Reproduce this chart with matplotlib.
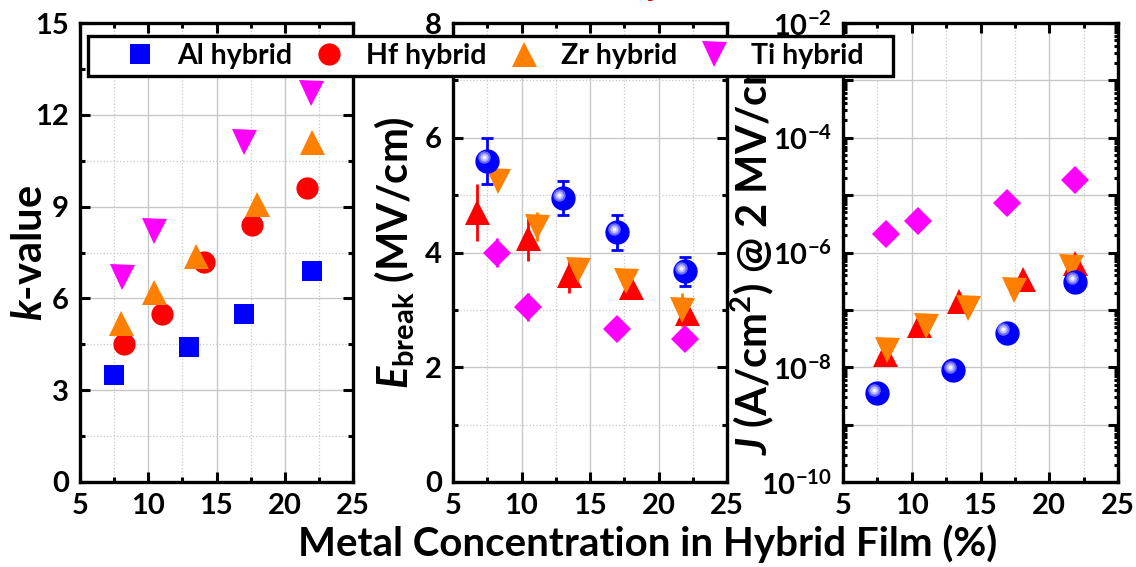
import math
import matplotlib
matplotlib.use("Agg")
import matplotlib.pyplot as plt
import matplotlib.ticker as mticker
from matplotlib.lines import Line2D
from matplotlib.patches import Rectangle
from matplotlib.transforms import offset_copy

plt.rcParams['font.family'] = ['Lato', 'DejaVu Sans']
plt.rcParams['font.weight'] = 'bold'
plt.rcParams['axes.labelweight'] = 'bold'
plt.rcParams['mathtext.fontset'] = 'custom'
plt.rcParams['mathtext.rm'] = 'Lato:bold'
plt.rcParams['mathtext.bf'] = 'Lato:bold'
plt.rcParams['mathtext.it'] = 'Lato:italic:bold'

# k-value vs metal concentration
al_k_x = [7.5, 13.0, 17.0, 22.0]
al_k = [3.5, 4.4, 5.5, 6.9]
hf_k_x = [8.2, 11.0, 14.1, 17.6, 21.6]
hf_k = [4.5, 5.5, 7.2, 8.4, 9.6]
zr_k_x = [8.0, 10.4, 13.5, 18.0, 22.0]
zr_k = [5.2, 6.2, 7.4, 9.1, 11.1]
ti_k_x = [8.1, 10.4, 17.0, 21.9]
ti_k = [6.7, 8.2, 11.1, 12.7]

# breakdown field (MV/cm) with error bars
al_e_x = [7.5, 13.0, 17.0, 21.9]
al_e = [5.6, 4.95, 4.35, 3.67]
al_e_err = [0.4, 0.3, 0.3, 0.25]
hf_e_x = [6.75, 10.5, 13.5, 18.0, 22.1]
hf_e = [4.7, 4.25, 3.6, 3.4, 2.95]
hf_e_err = [0.5, 0.4, 0.3, 0.2, 0.2]
zr_e_x = [8.3, 11.1, 14.1, 17.6, 21.7]
zr_e = [5.25, 4.45, 3.7, 3.5, 3.0]
zr_e_err = [0.1, 0.25, 0.15, 0.1, 0.3]
ti_e_x = [8.2, 10.5, 17.0, 21.9]
ti_e = [4.0, 3.05, 2.67, 2.5]
ti_e_err = [0.25, 0.25, 0.2, 0.2]

# leakage current density at 2 MV/cm (A/cm2)
al_j_x = [7.5, 13.0, 16.9, 21.9]
al_j = [3.5e-9, 8.9e-9, 4.0e-8, 3.1e-7]
hf_j_x = [8.05, 10.5, 13.4, 18.1, 21.9]
hf_j = [1.7e-8, 5.5e-8, 1.4e-7, 3.4e-7, 6.6e-7]
zr_j_x = [8.2, 11.0, 14.1, 17.4, 21.6]
zr_j = [2.0e-8, 5.2e-8, 1.1e-7, 2.2e-7, 5.7e-7]
ti_j_x = [8.1, 10.45, 16.9, 21.9]
ti_j = [2.1e-6, 3.5e-6, 7.2e-6, 1.8e-5]

labels = ["Al hybrid", "Hf hybrid", "Zr hybrid", "Ti hybrid"]
colors = {
    "Al": "#0000ff",
    "Hf": "#ff0000",
    "Zr": "#ff7f00",
    "Ti": "#ff00ff",
}

fig = plt.figure(figsize=(11.36, 5.67), dpi=100)
W, H = 1136, 567
ax1 = fig.add_axes([80 / W, 85 / H, 273 / W, 459 / H])
ax2 = fig.add_axes([453 / W, 85 / H, 274 / W, 459 / H])
ax3 = fig.add_axes([843 / W, 85 / H, 275 / W, 459 / H])


def style_axis(ax):
    ax.set_xlim(5, 25)
    ax.xaxis.set_major_locator(mticker.MultipleLocator(5))
    ax.xaxis.set_minor_locator(mticker.MultipleLocator(2.5))
    ax.tick_params(which='both', direction='in', top=True, right=True,
                   width=2.2, labelsize=21, pad=8)
    ax.tick_params(which='major', length=7)
    ax.tick_params(which='minor', length=3.5)
    for sp in ax.spines.values():
        sp.set_linewidth(2.4)
    ax.grid(True, which='major', color='#c8c8c8', linewidth=1.0)
    ax.grid(True, which='minor', color='#c8c8c8', linewidth=0.9, linestyle=':')
    ax.set_axisbelow(True)


def sphere(ax, x, y, yerr=None):
    # blue ball with a light spot on the upper left
    if yerr is not None:
        ax.errorbar(x, y, yerr=yerr, fmt='none', ecolor=colors["Al"],
                    elinewidth=2, capsize=4, capthick=2, zorder=3)
    ax.plot(x, y, 'o', color=colors["Al"], markersize=16.5, zorder=4)
    spot = offset_copy(ax.transData, fig=fig, x=-2.5, y=2.5, units='points')
    ax.plot(x, y, 'o', color='#6a6aff', markersize=9, transform=spot,
            markeredgewidth=0, zorder=4)
    ax.plot(x, y, 'o', color='#b4b4ff', markersize=6, transform=spot,
            markeredgewidth=0, zorder=4)
    ax.plot(x, y, 'o', color='#f4f4ff', markersize=3, transform=spot,
            markeredgewidth=0, zorder=4)


def log_label(v, pos):
    p = round(math.log10(v))
    return r'$\mathbf{10^{%d}}$' % p if p % 2 == 0 else ''


# k-value
style_axis(ax1)
ax1.set_ylim(0, 15)
ax1.yaxis.set_major_locator(mticker.MultipleLocator(3))
ax1.yaxis.set_minor_locator(mticker.MultipleLocator(1.5))
ax1.plot(al_k_x, al_k, 's', color=colors["Al"], markersize=14.5, markeredgewidth=0)
ax1.plot(hf_k_x, hf_k, 'o', color=colors["Hf"], markersize=16, markeredgewidth=0)
ax1.plot(zr_k_x, zr_k, '^', color=colors["Zr"], markersize=18, markeredgewidth=0)
ax1.plot(ti_k_x, ti_k, 'v', color=colors["Ti"], markersize=18, markeredgewidth=0)
ax1.set_ylabel(r'$k$-value', fontsize=30)
ax1.yaxis.set_label_coords(-0.115, 0.5)

# breakdown field
style_axis(ax2)
ax2.set_ylim(0, 8)
ax2.yaxis.set_major_locator(mticker.MultipleLocator(2))
ax2.yaxis.set_minor_locator(mticker.MultipleLocator(1))
ax2.errorbar(hf_e_x, hf_e, yerr=hf_e_err, fmt='^', color=colors["Hf"], markersize=18,
             markeredgewidth=0, elinewidth=2, capsize=4, capthick=2, zorder=3)
ax2.errorbar(zr_e_x, zr_e, yerr=zr_e_err, fmt='v', color=colors["Zr"], markersize=18,
             markeredgewidth=0, elinewidth=2, capsize=4, capthick=2, zorder=3)
ax2.errorbar(ti_e_x, ti_e, yerr=ti_e_err, fmt='D', color=colors["Ti"], markersize=14,
             markeredgewidth=0, elinewidth=2, capsize=4, capthick=2, zorder=3)
sphere(ax2, al_e_x, al_e, al_e_err)
ax2.set_ylabel(r'$E_{\mathrm{break}}$ (MV/cm)', fontsize=30)
ax2.yaxis.set_label_coords(-0.13, 0.5)

# leakage current
style_axis(ax3)
ax3.set_yscale('log')
ax3.set_ylim(1e-10, 1e-2)
ax3.yaxis.set_major_locator(mticker.LogLocator(base=10, numticks=20))
ax3.yaxis.set_minor_locator(mticker.LogLocator(base=10, subs=range(2, 10), numticks=20))
ax3.yaxis.set_minor_formatter(mticker.NullFormatter())
ax3.yaxis.set_major_formatter(mticker.FuncFormatter(log_label))
ax3.grid(False, which='minor', axis='y')
ax3.tick_params(axis='y', which='minor', length=3)
sphere(ax3, al_j_x, al_j)
ax3.plot(hf_j_x, hf_j, '^', color=colors["Hf"], markersize=18, markeredgewidth=0)
ax3.plot(zr_j_x, zr_j, 'v', color=colors["Zr"], markersize=18, markeredgewidth=0)
ax3.plot(ti_j_x, ti_j, 'D', color=colors["Ti"], markersize=14, markeredgewidth=0)
ax3.set_ylabel(r'$J$ (A/cm$^{2}$) @ 2 MV/cm', fontsize=30)
ax3.yaxis.set_label_coords(-0.245, 0.5)

fig.text(648 / W, 4 / H, 'Metal Concentration in Hybrid Film (%)', ha='center', va='bottom',
         fontsize=29)

# red title cut off at the top edge
fig.text(655 / W, 1 + 5 / H, 'y', color='#e00000', style='italic', fontsize=28,
         ha='center', va='baseline')

# shared legend across the three panels
fig.add_artist(Rectangle((88 / W, 1 - 76 / H), 805 / W, 40 / H, transform=fig.transFigure,
                         facecolor='white', edgecolor='black', linewidth=2.4, zorder=4))
handles = [
    Line2D([], [], marker='s', color=colors["Al"], linestyle='none', markersize=14.5, markeredgewidth=0),
    Line2D([], [], marker='o', color=colors["Hf"], linestyle='none', markersize=16, markeredgewidth=0),
    Line2D([], [], marker='^', color=colors["Zr"], linestyle='none', markersize=18, markeredgewidth=0),
    Line2D([], [], marker='v', color=colors["Ti"], linestyle='none', markersize=18, markeredgewidth=0),
]
leg = fig.legend(handles, labels, loc='center left', bbox_to_anchor=(120 / W, 1 - 56 / H),
                 ncol=4, frameon=False, fontsize=20.5, handlelength=1.4,
                 handletextpad=0.6, columnspacing=0.6, borderpad=0, borderaxespad=0)
leg.set_zorder(5)

fig.savefig("out.png", dpi=100)
